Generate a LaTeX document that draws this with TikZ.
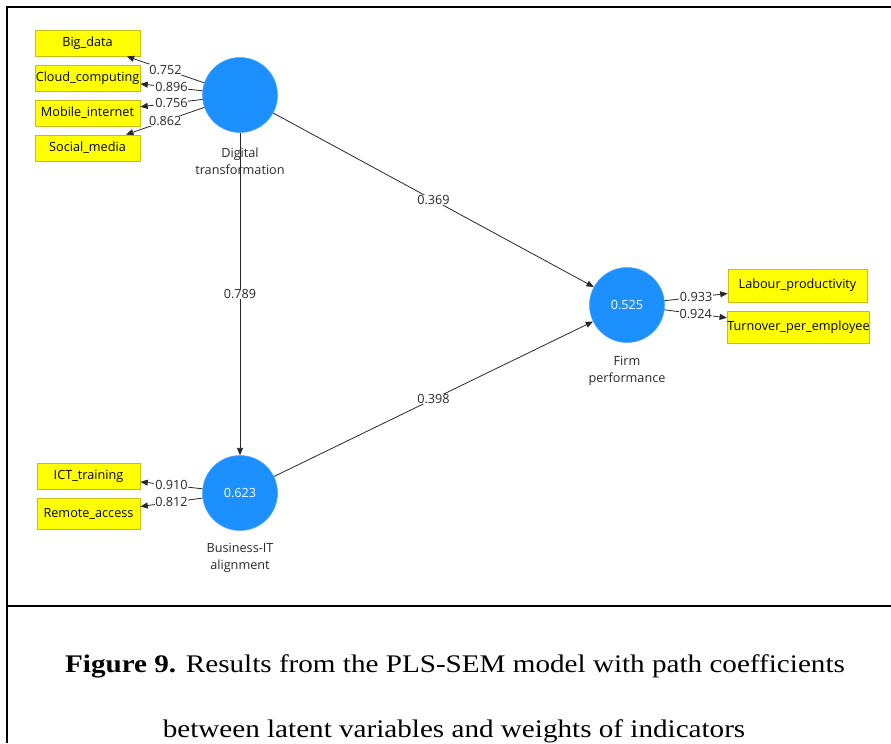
\documentclass[tikz,border=0pt]{standalone}
\usepackage{graphicx}
\usepackage{fontspec}
\setmainfont{Liberation Serif}
\newfontfamily\uifont{Open Sans}
\usetikzlibrary{arrows.meta}
\definecolor{lvblue}{RGB}{28,144,255}
\definecolor{indyellow}{RGB}{255,255,0}
\definecolor{indborder}{RGB}{200,190,20}
\definecolor{ink}{RGB}{40,40,40}
\begin{document}
\begin{tikzpicture}[x=0.75pt,y=-0.75pt,
  lv/.style={circle, fill=lvblue, draw=lvblue!80!white, line width=0.4pt,
    minimum size=56.25pt, inner sep=0pt, text=white, font=\uifont\fontsize{9.5}{11}\selectfont},
  ind/.style={rectangle, fill=indyellow, draw=indborder, line width=0.6pt,
    inner sep=0pt, text=black, font=\uifont\fontsize{9.5}{11}\selectfont},
  lvname/.style={align=center, text=ink, font=\uifont\fontsize{9.5}{12.75}\selectfont},
  wt/.style={fill=white, inner sep=0.6pt, text=ink, font=\uifont\fontsize{9.5}{11}\selectfont},
  arr/.style={draw=ink, line width=0.6pt, -{Triangle[length=5.5pt,width=4.5pt]}},
  frame/.style={line width=1.5pt, black},
  captext/.style={anchor=base, inner sep=0pt, font=\fontsize{19}{22}\selectfont}]
\useasboundingbox (0,0) rectangle (891,743);

% outer frame and caption separator
\draw[frame] (7,743) -- (7,7) -- (891,7);
\draw[frame] (7,606) -- (891,606);

% latent variables
\node[lv] (dt)  at (240,95)  {};
\node[lv] (fp)  at (627,305) {0.525};
\node[lv] (bit) at (240,493) {0.623};

\node[lvname] (dtname)  at (240,161) {Digital\\transformation};
\node[lvname] (fpname)  at (627,371) {Firm\\performance};
\node[lvname] (bitname) at (240,558) {Business-IT\\alignment};

% indicators
\node[ind, minimum width=78.75pt, minimum height=19.5pt] (bd) at (87.5,43)  {Big\_data};
\node[ind, minimum width=78.75pt, minimum height=19.5pt] (cc) at (87.5,78)  {Cloud\_computing};
\node[ind, minimum width=78.75pt, minimum height=19.5pt] (mi) at (87.5,113) {Mobile\_internet};
\node[ind, minimum width=78.75pt, minimum height=19.5pt] (sm) at (87.5,148) {Social\_media};

\node[ind, minimum width=104.25pt, minimum height=24.75pt] (lp) at (797.5,285.5) {Labour\_productivity};
\node[ind, minimum width=105.75pt, minimum height=24pt]    (te) at (798.5,327)   {Turnover\_per\_employee};

\node[ind, minimum width=77.25pt, minimum height=19.5pt]  (ict) at (88.5,476)   {ICT\_training};
\node[ind, minimum width=77.25pt, minimum height=23.25pt] (ra)  at (88.5,513.5) {Remote\_access};

% outer weights
\draw[arr] (dt) -- node[wt] {0.752} (bd);
\draw[arr] (dt) -- node[wt] {0.896} (cc);
\draw[arr] (dt) -- node[wt] {0.756} (mi);
\draw[arr] (dt) -- node[wt] {0.862} (sm);

\draw[arr] (fp) -- node[wt] {0.933} (lp);
\draw[arr] (fp) -- node[wt] {0.924} (te);

\draw[arr] (bit) -- node[wt] {0.910} (ict);
\draw[arr] (bit) -- node[wt] {0.812} (ra);

% structural paths
\draw[arr] (dt)  -- node[wt] {0.369} (fp);
\draw[arr] (dt)  -- node[wt] {0.789} (bit);
\draw[arr] (bit) -- node[wt] {0.398} (fp);

% caption
\node[captext] (cap1) at (455,672)
  {\scalebox{1.15}[1]{\textbf{Figure 9.} Results from the PLS-SEM model with path coefficients}};
\node[captext] (cap2) at (454,737)
  {\scalebox{1.15}[1]{between latent variables and weights of indicators}};
\end{tikzpicture}
\end{document}
